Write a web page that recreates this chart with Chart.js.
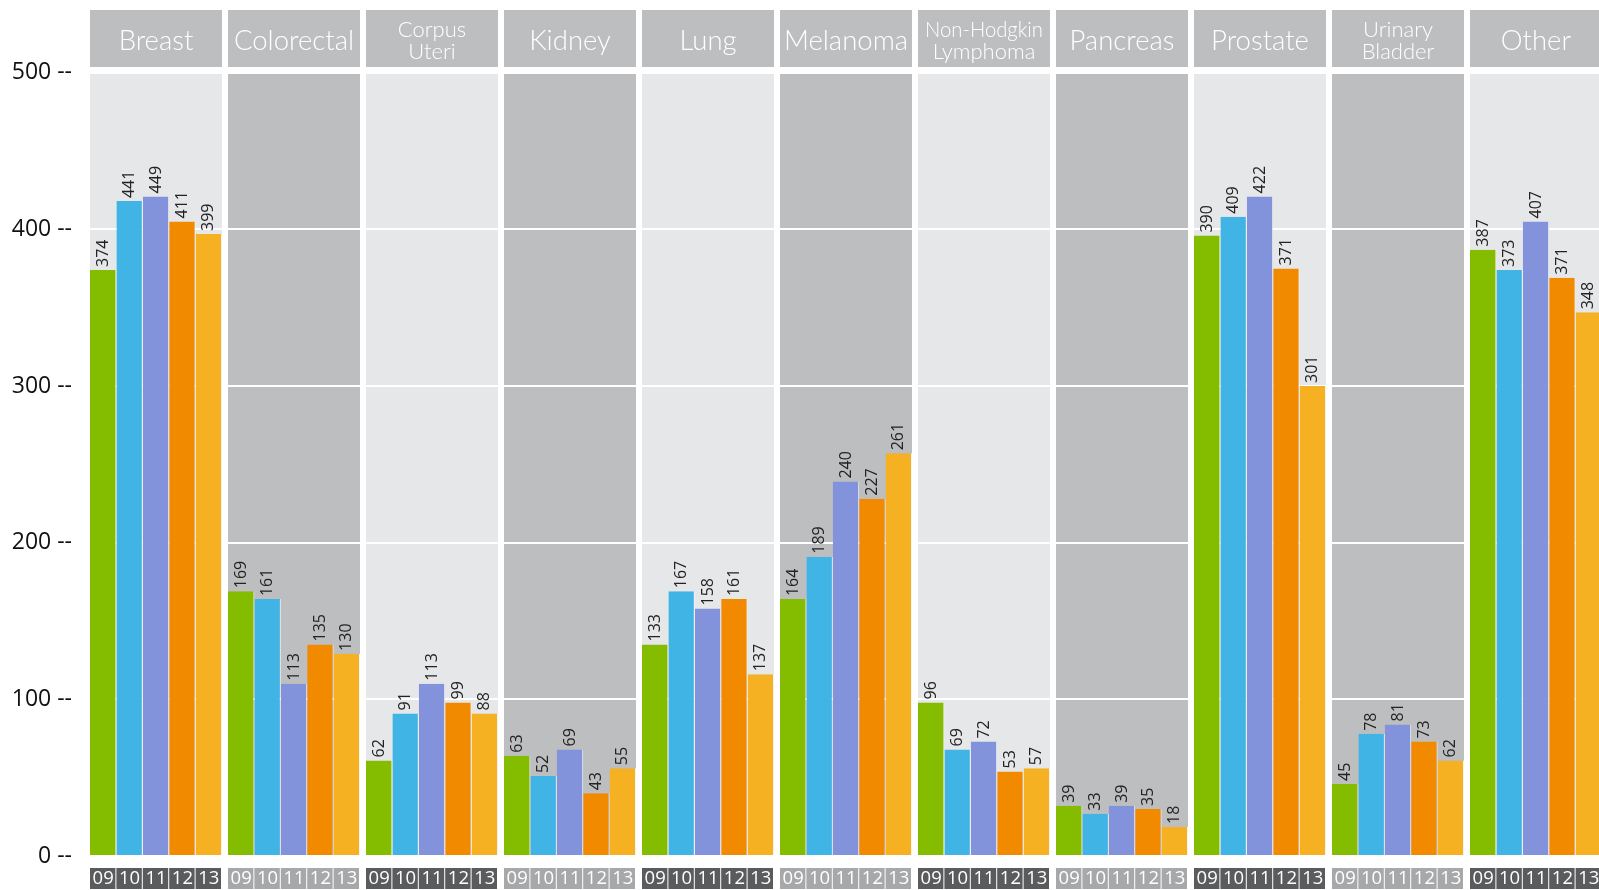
<!DOCTYPE html>
<html>
<head>
<meta charset="utf-8">
<title>Cases by site, 2009–2013</title>
<script src="https://cdn.jsdelivr.net/npm/chart.js@4/dist/chart.umd.min.js"></script>
<style>
  html, body { margin: 0; padding: 0; background: #fff; overflow: hidden; }
  #wrap { width: 1599px; height: 890px; overflow: hidden; }
</style>
</head>
<body>
<div id="wrap"><canvas id="chart" width="1610" height="890"></canvas></div>
<script>
// sites, one panel each
const categories = [
  "Breast", "Colorectal", ["Corpus", "Uteri"], "Kidney", "Lung", "Melanoma",
  ["Non-Hodgkin", "Lymphoma"], "Pancreas", "Prostate", ["Urinary", "Bladder"], "Other",
];
const years = ["09", "10", "11", "12", "13"];
const yTicks = [0, 100, 200, 300, 400, 500];

// bar heights as drawn
const bars09 = [374, 169, 61, 64, 135, 164, 98, 32, 396, 46, 387];
const bars10 = [418, 164, 91, 51, 169, 191, 68, 27, 408, 78, 374];
const bars11 = [421, 110, 110, 68, 158, 239, 73, 32, 421, 84, 405];
const bars12 = [405, 135, 98, 40, 164, 228, 54, 30, 375, 73, 369];
const bars13 = [397, 129, 91, 56, 116, 257, 56, 18.5, 300, 61, 347];

// numbers printed over the bars
const printed09 = [374, 169, 62, 63, 133, 164, 96, 39, 390, 45, 387];
const printed10 = [441, 161, 91, 52, 167, 189, 69, 33, 409, 78, 373];
const printed11 = [449, 113, 113, 69, 158, 240, 72, 39, 422, 81, 407];
const printed12 = [411, 135, 99, 43, 161, 227, 53, 35, 371, 73, 371];
const printed13 = [399, 130, 88, 55, 137, 261, 57, 18, 301, 62, 348];

const colors = ["#84bc00", "#41b4e6", "#8393db", "#f28a00", "#f5b122"];
const seriesBars = [bars09, bars10, bars11, bars12, bars13];
const seriesPrinted = [printed09, printed10, printed11, printed12, printed13];

const PANEL_LIGHT = "#e6e7e9";
const PANEL_DARK = "#bdbec0";
const HEADER_BG = "#bdbec0";
const YEAR_DARK = "#5a5b5d";
const YEAR_LIGHT = "#a7a8aa";
const PANEL_W = 132;

const panels = {
  id: "panels",
  beforeDraw(chart) {
    const { ctx, chartArea, scales } = chart;
    ctx.save();
    categories.forEach((name, i) => {
      const cx = scales.x.getPixelForValue(i);
      const left = cx - PANEL_W / 2;
      // panel background
      ctx.fillStyle = i % 2 === 0 ? PANEL_LIGHT : PANEL_DARK;
      ctx.fillRect(left, chartArea.top, PANEL_W, chartArea.bottom - chartArea.top);
      // header box
      ctx.fillStyle = HEADER_BG;
      ctx.fillRect(left, 10, PANEL_W, 57);
      ctx.fillStyle = "#fff";
      ctx.textAlign = "center";
      ctx.textBaseline = "middle";
      if (Array.isArray(name)) {
        ctx.font = "300 22px Lato";
        ctx.fillText(name[0], cx, 30, PANEL_W - 14);
        ctx.fillText(name[1], cx, 52, PANEL_W - 14);
      } else {
        ctx.font = "300 27.5px Lato";
        ctx.fillText(name, cx, 41, PANEL_W - 4);
      }
    });
    ctx.restore();
  },
  afterDraw(chart) {
    const { ctx } = chart;
    ctx.save();
    // value labels, rotated
    ctx.font = "16px 'Open Sans'";
    ctx.fillStyle = "#222";
    ctx.textAlign = "left";
    ctx.textBaseline = "middle";
    seriesPrinted.forEach((arr, d) => {
      const meta = chart.getDatasetMeta(d);
      meta.data.forEach((bar, i) => {
        ctx.save();
        ctx.translate(bar.x, bar.y - 3);
        ctx.rotate(-Math.PI / 2);
        ctx.fillText(String(arr[i]), 0, 0);
        ctx.restore();
      });
    });
    // year boxes under each bar
    ctx.font = "18.5px 'Open Sans'";
    ctx.textAlign = "center";
    ctx.textBaseline = "middle";
    years.forEach((yr, d) => {
      const meta = chart.getDatasetMeta(d);
      meta.data.forEach((bar, i) => {
        const l = bar.x - bar.width / 2;
        ctx.fillStyle = i % 2 === 0 ? YEAR_DARK : YEAR_LIGHT;
        ctx.fillRect(l, 868, bar.width - 1, 21);
        ctx.fillStyle = "#fff";
        ctx.fillText(yr, bar.x, 879);
      });
    });
    ctx.restore();
  },
};

new Chart(document.getElementById("chart"), {
  type: "bar",
  data: {
    labels: categories.map((c) => (Array.isArray(c) ? c.join(" ") : c)),
    datasets: years.map((yr, d) => ({
      label: yr,
      data: seriesBars[d],
      backgroundColor: colors[d],
      borderColor: "#f4f4f4",
      borderWidth: { top: 0, right: 1, bottom: 0, left: 0 },
      borderSkipped: false,
      categoryPercentage: PANEL_W / 138,
      barPercentage: 1,
    })),
  },
  options: {
    responsive: false,
    animation: false,
    devicePixelRatio: 1,
    layout: { padding: { top: 72.6, bottom: 34, left: 0, right: 5 } },
    plugins: { legend: { display: false }, tooltip: { enabled: false } },
    scales: {
      x: { display: false, grid: { display: false } },
      y: {
        min: 0,
        max: 500,
        z: 1,
        afterFit: (scale) => { scale.width = 87; },
        afterBuildTicks: (scale) => { scale.ticks = yTicks.map((v) => ({ value: v })); },
        border: { display: false },
        grid: { color: "#ffffff", lineWidth: 2, drawTicks: false },
        ticks: {
          padding: 15,
          color: "#111",
          font: { family: "'Open Sans'", size: 23 },
          callback: (v) => `${v} --`,
        },
      },
    },
  },
  plugins: [panels],
});
</script>
</body>
</html>
